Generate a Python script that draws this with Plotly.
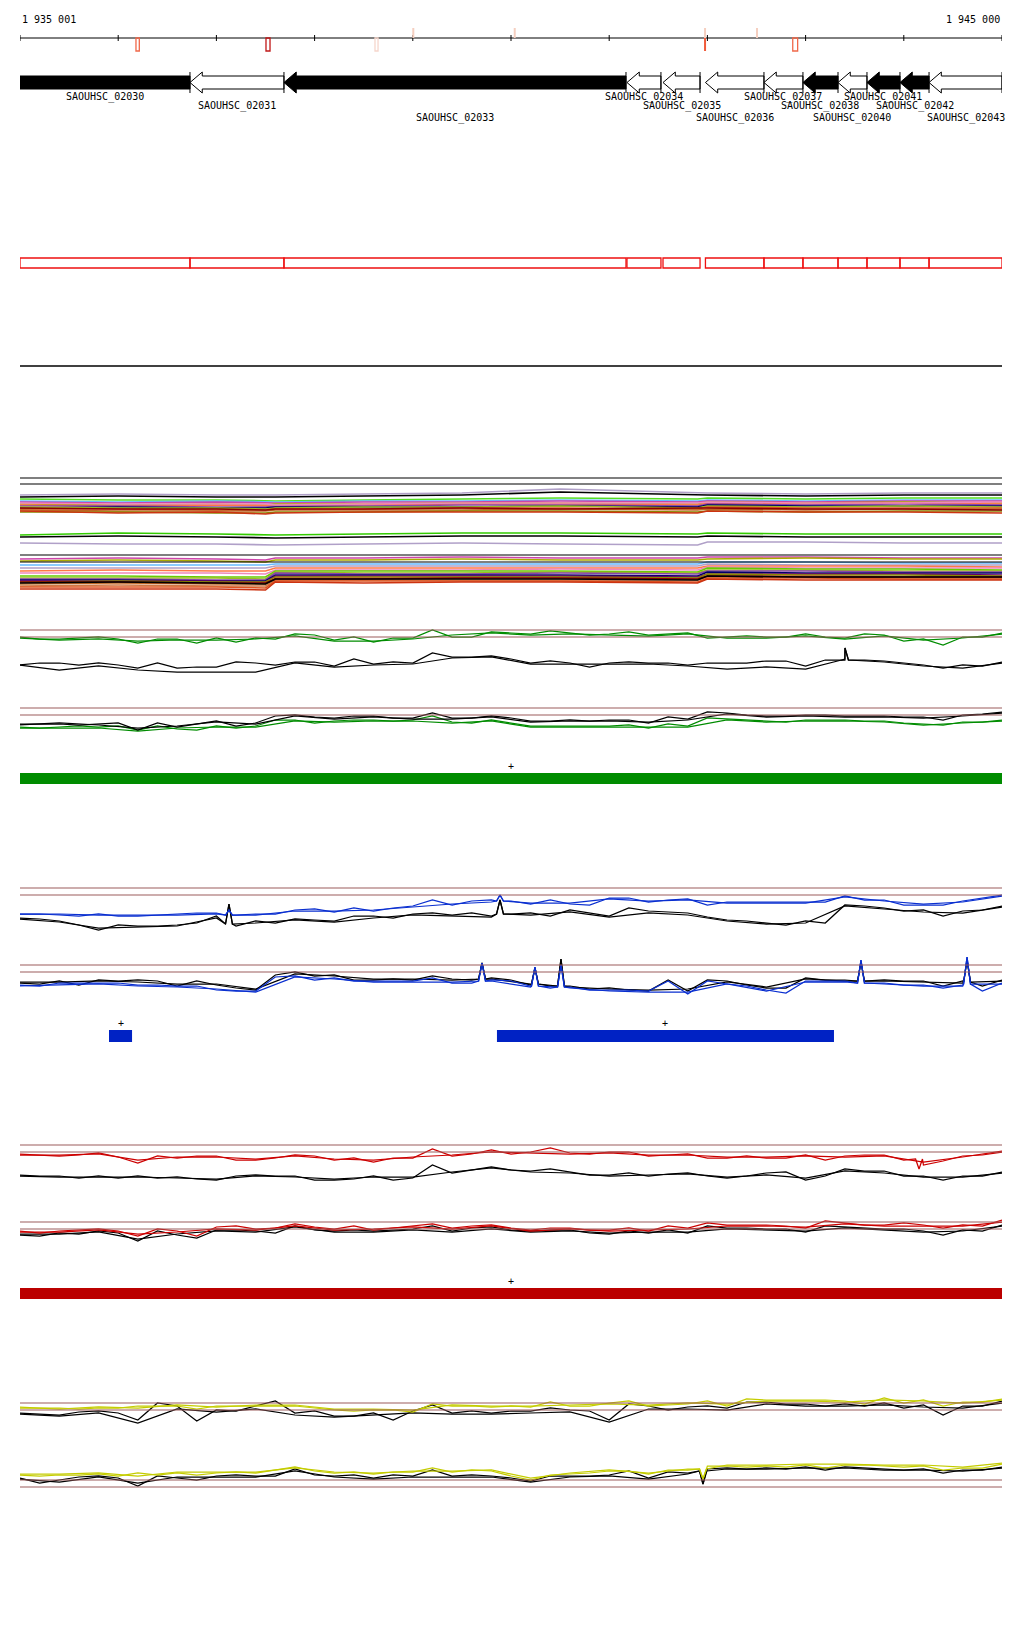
import plotly.graph_objects as go

W, H = 1024, 1640
START, END = 1935000, 1945000
LEFT_LABEL = "1 935 001"
RIGHT_LABEL = "1 945 000"
RULER_TICKS = list(range(START, END + 1, 1000))

# ---------------- genes ----------------
GENE_NAMES = ["SAOUHSC_02030", "SAOUHSC_02031", "SAOUHSC_02033", "SAOUHSC_02034",
              "SAOUHSC_02035", "SAOUHSC_02036", "SAOUHSC_02037", "SAOUHSC_02038",
              "SAOUHSC_02040", "SAOUHSC_02041", "SAOUHSC_02042", "SAOUHSC_02043"]
GENE_START = [1934600, 1936731, 1937688, 1941181, 1941548, 1941980, 1942576, 1942973,
              1943330, 1943625, 1943961, 1944257]
GENE_END = [1936731, 1937688, 1941171, 1941527, 1941925, 1942576, 1942973, 1943330,
            1943625, 1943961, 1944257, 1945000]
GENE_FILLED = [True, False, True, False, False, False, False, True, False, True, True, False]

# ruler marks
MARK_BOX_START = [1936181, 1937505, 1938615, 1942869]
MARK_BOX_END = [1936215, 1937546, 1938646, 1942919]
MARK_BOX_COLOR = ["#f0684a", "#c01818", "#f6d6cc", "#f0684a"]
MARK_UP = [1939005, 1940038, 1941976, 1942505]
MARK_DOWN = [1941976]

# ---------------- signal tracks (sample positions every 200 / 400 bp) ----------------
POS = list(range(START, END + 1, 200))
POS2 = list(range(START, END + 1, 400))

GA_GREEN1 = [7, 9, 9, 8, 7, 9, 13, 9, 9, 13, 8, 12, 8, 9, 4, 5, 10, 7, 12, 8, 8, 0, 7, 7, 2, 3,
             4, 1, 3, 5, 4, 2, 5, 4, 3, 8, 7, 6, 7, 7, 4, 7, 8, 4, 5, 11, 9, 15, 7, 7, 3]
GA_GREEN2 = [8, 10, 9, 11, 10, 10, 9, 6, 11, 11, 9, 5, 3, 5, 4, 5, 6, 4, 8, 8, 6, 9, 6, 10, 8, 4]
GA_BLACK1 = [35, 33, 33, 35, 33, 35, 38, 33, 38, 37, 37, 32, 33, 35, 32, 32, 36, 29, 34, 32, 33, 23, 27, 27, 26, 29,
             33, 31, 33, 37, 33, 32, 33, 33, 35, 33, 33, 33, 31, 31, 36, 30, 29, 30, 31, 33, 35, 38, 35, 36, 32]
GA_BLACK2 = [35, 40, 36, 40, 42, 42, 42, 33, 37, 35, 34, 28, 27, 34, 34, 34, 34, 36, 39, 37, 39, 30, 32, 36, 38, 33]
GA_BLACK_SPIKES = [(1943401, 30, 18)]

GB_BLACK1 = [16, 16, 16, 17, 16, 15, 22, 15, 19, 16, 13, 18, 15, 8, 7, 9, 10, 8, 8, 10, 10, 5, 10, 10, 8, 10,
             13, 13, 12, 13, 12, 12, 15, 9, 11, 4, 5, 7, 8, 8, 7, 7, 8, 8, 8, 9, 9, 12, 7, 6, 4]
GB_BLACK2 = [17, 15, 17, 20, 18, 14, 16, 8, 11, 9, 11, 11, 9, 14, 13, 13, 14, 12, 6, 9, 8, 9, 9, 10, 8, 5]
GB_GREEN1 = [19, 20, 19, 18, 19, 18, 22, 18, 21, 22, 18, 20, 18, 12, 12, 15, 13, 12, 12, 13, 12, 8, 14, 15, 12, 15,
             18, 18, 18, 18, 18, 17, 20, 16, 18, 10, 11, 12, 13, 14, 12, 12, 12, 13, 13, 15, 16, 17, 14, 14, 12]
GB_GREEN2 = [20, 20, 20, 23, 20, 19, 19, 13, 14, 13, 13, 15, 13, 19, 19, 19, 19, 19, 12, 14, 13, 13, 14, 17, 15, 13]

BA_BLUE1 = [26, 26, 27, 28, 26, 28, 28, 27, 26, 25, 25, 27, 26, 26, 22, 21, 24, 20, 23, 20, 18, 12, 17, 13, 12, 13,
            16, 12, 16, 17, 10, 10, 14, 12, 11, 17, 14, 14, 14, 14, 14, 14, 8, 12, 12, 17, 17, 17, 13, 10, 7]
BA_BLUE2 = [26, 26, 27, 27, 27, 26, 27, 23, 23, 22, 19, 16, 14, 15, 15, 11, 13, 12, 15, 15, 15, 9, 13, 16, 14, 8]
BA_BLACK1 = [30, 31, 33, 37, 42, 37, 38, 38, 37, 35, 28, 38, 33, 35, 31, 32, 33, 28, 28, 30, 26, 25, 27, 25, 28, 26,
             25, 28, 22, 25, 28, 20, 23, 24, 25, 29, 32, 33, 35, 37, 33, 35, 17, 18, 20, 23, 22, 28, 23, 22, 18]
BA_BLACK2 = [31, 34, 40, 39, 38, 30, 35, 32, 34, 30, 27, 28, 29, 27, 24, 29, 25, 27, 33, 36, 35, 18, 21, 24, 25, 19]
BA_BLACK_SPIKES = [(1937128, 36, 16), (1939888, 26, 12)]
BA_BLUE_SPIKES = [(1937128, 27, 22), (1939888, 13, 7)]

BB_BLACK1 = [18, 19, 16, 20, 15, 16, 15, 16, 21, 16, 20, 23, 25, 10, 7, 11, 10, 15, 15, 14, 15, 11, 14, 15, 13, 15,
             20, 21, 21, 24, 23, 25, 26, 15, 26, 15, 16, 20, 23, 23, 13, 15, 15, 16, 15, 16, 16, 21, 16, 21, 15]
BB_BLACK2 = [17, 17, 16, 17, 19, 19, 24, 9, 11, 14, 14, 15, 14, 19, 22, 24, 25, 24, 17, 22, 14, 16, 16, 17, 18, 16]
BB_BLUE1 = [20, 21, 18, 18, 18, 18, 20, 20, 21, 21, 25, 26, 26, 12, 11, 15, 13, 16, 16, 16, 16, 13, 18, 18, 15, 16,
            21, 23, 22, 25, 25, 25, 26, 16, 29, 16, 19, 21, 25, 28, 16, 16, 16, 18, 18, 20, 20, 23, 20, 26, 18]
BB_BLUE2 = [21, 20, 19, 21, 22, 24, 27, 12, 14, 17, 17, 17, 16, 22, 23, 26, 27, 27, 19, 26, 17, 17, 19, 21, 21, 19]
BB_BLACK_SPIKES = [(1939705, 14, -2), (1940244, 19, 3), (1940509, 21, -6), (1943564, 16, -3), (1944644, 17, -5)]
BB_BLUE_SPIKES = [(1939705, 16, -2), (1940244, 21, 2), (1940509, 22, 0), (1943564, 18, -5), (1944644, 19, -8)]

RA_RED1 = [9, 10, 11, 10, 8, 12, 18, 11, 13, 11, 11, 15, 15, 13, 10, 11, 15, 13, 17, 13, 13, 4, 11, 9, 5, 9,
           7, 3, 8, 9, 7, 7, 11, 10, 9, 13, 13, 11, 13, 13, 10, 15, 11, 10, 10, 15, 20, 16, 11, 10, 7]
RA_RED2 = [10, 10, 9, 15, 12, 12, 14, 11, 14, 15, 12, 10, 7, 8, 9, 8, 10, 10, 12, 12, 11, 12, 11, 17, 12, 6]
RA_BLACK1 = [30, 31, 31, 33, 31, 33, 31, 33, 32, 34, 35, 31, 30, 31, 31, 35, 35, 34, 31, 35, 33, 20, 28, 25, 22, 25,
             26, 24, 27, 30, 30, 28, 31, 29, 28, 31, 33, 31, 28, 27, 35, 31, 24, 26, 26, 31, 31, 35, 31, 31, 27]
RA_BLACK2 = [31, 32, 32, 32, 33, 34, 31, 32, 34, 32, 32, 27, 23, 27, 28, 31, 30, 29, 32, 30, 33, 26, 28, 32, 32, 28]
RA_RED_SPIKES = [(1944155, 14, 24)]

RB_RED1 = [9, 11, 9, 8, 7, 9, 14, 7, 9, 14, 5, 4, 7, 6, 2, 5, 7, 4, 8, 6, 4, 2, 6, 4, 3, 6,
           8, 6, 6, 8, 8, 6, 9, 4, 6, 1, 3, 3, 3, 4, 6, -1, 1, 3, 3, 1, 3, 6, 3, 4, -2]
RB_RED2 = [10, 10, 8, 12, 10, 7, 8, 4, 8, 7, 5, 7, 4, 9, 7, 9, 8, 7, 4, 4, 5, 2, 4, 4, 4, 0]
RB_BLACK1 = [13, 14, 11, 12, 9, 11, 19, 9, 13, 16, 8, 8, 9, 11, 4, 8, 9, 8, 9, 8, 7, 4, 9, 6, 5, 8,
             9, 8, 8, 11, 12, 9, 11, 8, 11, 4, 6, 6, 7, 7, 10, 4, 5, 6, 7, 7, 9, 13, 8, 9, 3]
RB_BLACK2 = [12, 12, 10, 17, 12, 9, 10, 5, 10, 10, 8, 10, 7, 10, 9, 11, 10, 10, 7, 8, 9, 6, 8, 10, 9, 4]

YA_YEL1 = [5, 5, 5, 6, 5, 5, 3, 3, 3, 6, 3, 3, 3, 3, 3, 5, 7, 8, 7, 7, 9, 1, 3, 3, 4, 3,
           4, -1, 3, 3, 0, -2, 3, 2, 1, -2, 3, -4, -3, -3, -3, -3, -2, 1, -5, 0, -3, 3, -1, -1, -4]
YA_YEL2 = [4, 6, 4, 5, 2, 4, 2, 2, 6, 6, 7, 2, 3, 3, 2, 1, 2, 0, 1, -2, -2, -1, -3, -2, 0, -3]
YA_BLK1 = [10, 11, 12, 9, 8, 10, 17, 0, 3, 18, 7, 8, 3, -2, 10, 8, 13, 13, 10, 17, 8, 2, 10, 8, 10, 8,
           8, 5, 7, 8, 17, 1, 3, 7, 4, 3, 5, -1, -1, 1, 1, 3, 1, 3, 0, 5, 2, 12, 3, 3, -2]
YA_BLK2 = [11, 13, 10, 20, 6, 9, 6, 12, 14, 12, 10, 11, 11, 10, 9, 19, 6, 6, 7, 1, 3, 3, 2, 4, 5, 0]

YB_YEL1 = [-5, -4, -5, -5, -6, -4, -7, -5, -7, -5, -7, -8, -7, -10, -13, -9, -7, -8, -6, -8, -8, -12, -8, -10, -9, -4,
           0, -5, -6, -7, -9, -9, -6, -10, -10, -14, -14, -13, -14, -13, -15, -12, -15, -15, -14, -13, -14, -10, -12, -12, -16]
YB_YEL2 = [-6, -6, -7, -4, -8, -8, -8, -12, -8, -7, -9, -9, -10, -2, -7, -10, -7, -11, -15, -15, -16, -16, -15, -15, -13, -17]
YB_BLK1 = [-2, 3, 0, -3, -4, -2, 6, -4, -2, 0, -4, -5, -4, -4, -11, -5, -4, -5, -2, -5, -4, -10, -4, -5, -4, -2,
           1, -4, -4, -4, -5, -9, -2, -8, -7, -11, -12, -11, -12, -11, -13, -10, -13, -12, -11, -10, -11, -7, -10, -10, -13]
YB_BLK2 = [-1, 2, -3, 3, -3, -3, -3, -9, -3, -1, -3, -3, -3, 2, -3, -4, -1, -6, -11, -11, -12, -12, -10, -10, -9, -12]
YB_BLK_SPIKES = [(1941955, -9, 4)]
YB_YEL_SPIKES = [(1941955, -11, -1)]

THRESHOLDS = [0, 7]

# ---------------- multi-sample track ----------------
MULTI_POS = [1935000, 1936000, 1937000, 1937500, 1937600, 1938500, 1939500, 1940500,
             1941900, 1942000, 1943000, 1944000, 1945000]
MULTI_REF = [0, 6, 77, 84]
MULTI_COLORS = ["#b0a0c8", "#000000", "#55dd22", "#66bbff", "#cc44aa", "#aaaa00", "#ff7744", "#8844aa",
                "#ee88bb", "#000066", "#99bb22", "#dd5522", "#bb6622", "#888800", "#cc3311", "#880000",
                "#33cc00", "#000000", "#b0a0c8",
                "#cc44aa", "#aaaa00", "#66bbff", "#b0a0c8", "#ff7744", "#ee88bb", "#66cc00", "#99bb22",
                "#8844aa", "#000066", "#660066", "#888800", "#bb6622", "#cc7744", "#dd5522", "#cc3311",
                "#880000", "#000000"]
MULTI_VALUES = [
    [17, 16, 17, 17, 17, 16, 15, 11, 15, 15, 16, 15, 15],
    [19, 18, 19, 19, 19, 18, 17, 14, 17, 17, 18, 17, 17],
    [21, 22, 22, 23, 23, 22, 21, 20, 21, 20, 21, 20, 20],
    [23, 24, 23, 24, 24, 23, 23, 22, 23, 22, 23, 22, 22],
    [24, 25, 24, 25, 25, 24, 24, 23, 24, 23, 24, 23, 23],
    [26, 27, 26, 27, 26, 26, 25, 25, 26, 24, 25, 24, 25],
    [27, 28, 27, 28, 28, 27, 26, 26, 27, 25, 26, 25, 26],
    [28, 28, 29, 29, 28, 28, 27, 27, 28, 26, 27, 26, 27],
    [25, 26, 26, 26, 27, 26, 25, 25, 25, 24, 25, 25, 24],
    [30, 29, 30, 30, 29, 29, 29, 28, 29, 27, 28, 28, 28],
    [29, 30, 30, 31, 30, 29, 29, 28, 30, 28, 29, 28, 29],
    [31, 31, 32, 32, 31, 31, 30, 30, 31, 29, 30, 30, 30],
    [32, 33, 33, 33, 32, 32, 32, 31, 32, 31, 32, 31, 31],
    [34, 34, 35, 35, 34, 34, 33, 33, 34, 33, 34, 33, 33],
    [33, 35, 34, 36, 35, 34, 34, 34, 35, 33, 34, 34, 35],
    [30, 31, 31, 32, 31, 31, 30, 31, 30, 30, 31, 31, 32],
    [57, 55, 56, 57, 57, 56, 55, 55, 56, 55, 56, 56, 56],
    [59, 58, 59, 60, 60, 59, 58, 58, 59, 58, 59, 59, 59],
    [65, 66, 66, 67, 67, 66, 65, 66, 67, 64, 64, 65, 65],
    [81, 80, 81, 82, 80, 80, 79, 80, 80, 79, 79, 80, 80],
    [83, 82, 83, 84, 82, 82, 81, 82, 82, 81, 80, 81, 81],
    [87, 87, 87, 87, 86, 86, 86, 86, 86, 84, 84, 85, 85],
    [90, 90, 90, 90, 88, 88, 88, 88, 88, 86, 87, 87, 87],
    [93, 92, 93, 93, 90, 90, 90, 90, 90, 88, 88, 88, 89],
    [95, 95, 95, 96, 92, 92, 92, 91, 92, 89, 90, 90, 90],
    [98, 98, 99, 99, 93, 93, 93, 93, 94, 90, 91, 91, 92],
    [100, 100, 100, 101, 94, 95, 95, 94, 95, 92, 92, 93, 93],
    [101, 101, 102, 102, 95, 96, 96, 95, 96, 93, 93, 94, 94],
    [102, 102, 103, 103, 97, 97, 97, 97, 98, 94, 95, 95, 95],
    [103, 103, 103, 104, 98, 98, 98, 98, 99, 96, 96, 96, 97],
    [104, 103, 104, 104, 99, 99, 99, 99, 100, 96, 97, 97, 98],
    [106, 105, 106, 106, 100, 100, 100, 100, 101, 98, 98, 99, 99],
    [108, 107, 108, 108, 102, 102, 102, 102, 102, 99, 99, 100, 100],
    [109, 109, 109, 110, 103, 103, 103, 103, 104, 100, 100, 101, 101],
    [111, 111, 111, 112, 104, 105, 104, 104, 105, 101, 102, 102, 102],
    [104, 104, 105, 105, 101, 101, 100, 100, 101, 98, 99, 99, 99],
    [105, 104, 105, 106, 101, 101, 101, 101, 102, 98, 99, 99, 99],
]

# ---------------- feature bars ----------------
GREEN_BARS = [(1935000, 1945000)]
BLUE_BARS = [(1935906, 1936141), (1939857, 1943289)]
RED_BARS = [(1935000, 1945000)]

# ---------------- styles ----------------
GREEN, BLUE, RED, YELLOW = "#008c00", "#0a2fd0", "#cc0000", "#c4cc00"
BAR_GREEN, BAR_BLUE, BAR_RED = "#008c00", "#0022c4", "#bb0000"
THRESH_COLOR = "#9c5c5c"
FONT = "DejaVu Sans Mono"
LW = 1.25

fig = go.Figure()

# axis layout: name -> (top px, bottom px, reference px)
AXES = {
    "y": (0, 380, 0),
    "y2": (468, 600, 478),
    "y3": (615, 690, 630),
    "y4": (692, 760, 708),
    "y5": (760, 792, 760),
    "y6": (875, 945, 888),
    "y7": (948, 1008, 965),
    "y8": (1008, 1050, 1008),
    "y9": (1130, 1200, 1145),
    "y10": (1202, 1262, 1222),
    "y11": (1265, 1305, 1265),
    "y12": (1385, 1440, 1403),
    "y13": (1450, 1500, 1480),
}
layout_axes = {}
for name, (top, bot, ref) in AXES.items():
    key = "yaxis" if name == "y" else "yaxis" + name[1:]
    layout_axes[key] = dict(domain=[1 - bot / H, 1 - top / H], range=[bot - ref, top - ref],
                            visible=False, anchor="x", fixedrange=True)

shapes, annos = [], []


def add_line(xs, ys, yax, color, spikes=(), width=LW):
    pts = list(zip(xs, ys))
    for (sx, base, peak) in spikes:
        pts += [(sx - 35, base), (sx, peak), (sx + 35, base)]
    pts.sort(key=lambda p: p[0])
    fig.add_trace(go.Scatter(x=[p[0] for p in pts], y=[p[1] for p in pts], mode="lines",
                             line=dict(color=color, width=width), xaxis="x", yaxis=yax,
                             hoverinfo="skip"))


def add_thresholds(yax):
    for v in THRESHOLDS:
        shapes.append(dict(type="line", xref="x", yref=yax, x0=START, x1=END, y0=v, y1=v,
                           line=dict(color=THRESH_COLOR, width=1.1)))


# ---- ruler ----
RULER_Y = 38
shapes.append(dict(type="line", xref="x", yref="y", x0=START, x1=END, y0=RULER_Y, y1=RULER_Y,
                   line=dict(color="black", width=1)))
for t in RULER_TICKS:
    shapes.append(dict(type="line", xref="x", yref="y", x0=t, x1=t, y0=RULER_Y - 3, y1=RULER_Y + 3,
                       line=dict(color="black", width=1)))
for s, e, c in zip(MARK_BOX_START, MARK_BOX_END, MARK_BOX_COLOR):
    shapes.append(dict(type="rect", xref="x", yref="y", x0=s, x1=e, y0=RULER_Y, y1=RULER_Y + 13,
                       line=dict(color=c, width=1.3), fillcolor="rgba(0,0,0,0)"))
for p in MARK_UP:
    shapes.append(dict(type="line", xref="x", yref="y", x0=p, x1=p, y0=RULER_Y - 10, y1=RULER_Y,
                       line=dict(color="#f5cfc0", width=2)))
for p in MARK_DOWN:
    shapes.append(dict(type="line", xref="x", yref="y", x0=p, x1=p, y0=RULER_Y, y1=RULER_Y + 13,
                       line=dict(color="#f05a3a", width=2)))
annos.append(dict(x=START, y=19, xref="x", yref="y", text=LEFT_LABEL, showarrow=False,
                  xanchor="left", yanchor="middle", font=dict(family=FONT, size=10, color="black")))
annos.append(dict(x=END, y=19, xref="x", yref="y", text=RIGHT_LABEL, showarrow=False,
                  xanchor="right", yanchor="middle", font=dict(family=FONT, size=10, color="black")))

# ---- genes ----
B_TOP, B_BOT, H_TOP, H_BOT = 76, 89, 72, 93
MID = (B_TOP + B_BOT) / 2
HEAD = 125
LABEL_ROWS = [97, 106, 118]
for i, (nm, s, e, filled) in enumerate(zip(GENE_NAMES, GENE_START, GENE_END, GENE_FILLED)):
    h = min(HEAD, e - s)
    xs = [s, s + h, s + h, e, e, s + h, s + h, s]
    ys = [MID, H_TOP, B_TOP, B_TOP, B_BOT, B_BOT, H_BOT, MID]
    fig.add_trace(go.Scatter(x=xs, y=ys, mode="lines", fill="toself",
                             fillcolor="black" if filled else "white",
                             line=dict(color="black", width=1), xaxis="x", yaxis="y",
                             hoverinfo="skip"))
    shapes.append(dict(type="line", xref="x", yref="y", x0=e, x1=e, y0=H_TOP, y1=H_BOT,
                       line=dict(color="black", width=1)))
    vs, ve = max(s, START), min(e, END)
    annos.append(dict(x=(vs + ve) / 2, y=LABEL_ROWS[i % 3], xref="x", yref="y", text=nm,
                      showarrow=False, xanchor="center", yanchor="middle",
                      font=dict(family=FONT, size=10, color="black")))
    shapes.append(dict(type="rect", xref="x", yref="y", x0=vs, x1=ve, y0=258, y1=268,
                       line=dict(color="#ee1111", width=1.3), fillcolor="rgba(0,0,0,0)"))

shapes.append(dict(type="line", xref="x", yref="y", x0=START, x1=END, y0=366, y1=366,
                   line=dict(color="black", width=1.3)))

# ---- multi-sample track ----
for v in MULTI_REF:
    shapes.append(dict(type="line", xref="x", yref="y2", x0=START, x1=END, y0=v, y1=v,
                       line=dict(color="black", width=1.2)))
for c, vals in zip(MULTI_COLORS, MULTI_VALUES):
    add_line(MULTI_POS, vals, "y2", c, width=1.6)

# ---- green track ----
add_thresholds("y3")
add_line(POS, GA_GREEN1, "y3", GREEN)
add_line(POS2, GA_GREEN2, "y3", GREEN)
add_line(POS, GA_BLACK1, "y3", "black", GA_BLACK_SPIKES)
add_line(POS2, GA_BLACK2, "y3", "black", GA_BLACK_SPIKES)
add_thresholds("y4")
add_line(POS, GB_GREEN1, "y4", GREEN)
add_line(POS2, GB_GREEN2, "y4", GREEN)
add_line(POS, GB_BLACK1, "y4", "black")
add_line(POS2, GB_BLACK2, "y4", "black")

# ---- blue track ----
add_thresholds("y6")
add_line(POS, BA_BLACK1, "y6", "black", BA_BLACK_SPIKES)
add_line(POS2, BA_BLACK2, "y6", "black", BA_BLACK_SPIKES)
add_line(POS, BA_BLUE1, "y6", BLUE, BA_BLUE_SPIKES)
add_line(POS2, BA_BLUE2, "y6", BLUE, BA_BLUE_SPIKES)
add_thresholds("y7")
add_line(POS, BB_BLACK1, "y7", "black", BB_BLACK_SPIKES)
add_line(POS2, BB_BLACK2, "y7", "black", BB_BLACK_SPIKES)
add_line(POS, BB_BLUE1, "y7", BLUE, BB_BLUE_SPIKES)
add_line(POS2, BB_BLUE2, "y7", BLUE, BB_BLUE_SPIKES)

# ---- red track ----
add_thresholds("y9")
add_line(POS, RA_BLACK1, "y9", "black")
add_line(POS2, RA_BLACK2, "y9", "black")
add_line(POS, RA_RED1, "y9", RED, RA_RED_SPIKES)
add_line(POS2, RA_RED2, "y9", RED)
add_thresholds("y10")
add_line(POS, RB_BLACK1, "y10", "black")
add_line(POS2, RB_BLACK2, "y10", "black")
add_line(POS, RB_RED1, "y10", RED)
add_line(POS2, RB_RED2, "y10", RED)

# ---- yellow track ----
add_thresholds("y12")
add_line(POS, YA_BLK1, "y12", "black")
add_line(POS2, YA_BLK2, "y12", "black")
add_line(POS, YA_YEL1, "y12", YELLOW)
add_line(POS2, YA_YEL2, "y12", YELLOW)
add_thresholds("y13")
add_line(POS, YB_BLK1, "y13", "black", YB_BLK_SPIKES)
add_line(POS2, YB_BLK2, "y13", "black", YB_BLK_SPIKES)
add_line(POS, YB_YEL1, "y13", YELLOW, YB_YEL_SPIKES)
add_line(POS2, YB_YEL2, "y13", YELLOW, YB_YEL_SPIKES)

# ---- feature bars ----
for bars, yax, color, btop, bbot, plus_y in [(GREEN_BARS, "y5", BAR_GREEN, 13, 24, 6),
                                             (BLUE_BARS, "y8", BAR_BLUE, 22, 34, 15),
                                             (RED_BARS, "y11", BAR_RED, 23, 34, 16)]:
    for s, e in bars:
        shapes.append(dict(type="rect", xref="x", yref=yax, x0=s, x1=e, y0=btop, y1=bbot,
                           line=dict(width=0), fillcolor=color))
        annos.append(dict(x=(s + e) / 2, y=plus_y, xref="x", yref=yax, text="+", showarrow=False,
                          xanchor="center", yanchor="middle",
                          font=dict(family=FONT, size=10, color="black")))

fig.update_layout(
    width=W, height=H, margin=dict(l=0, r=0, t=0, b=0),
    paper_bgcolor="white", plot_bgcolor="white", showlegend=False,
    xaxis=dict(domain=[20 / W, 1002 / W], range=[START, END], visible=False, fixedrange=True,
               anchor="y"),
    shapes=shapes, annotations=annos,
    **layout_axes,
)

fig.write_html("out.html", config={"displayModeBar": False},
               post_script="document.body.style.margin='0';")
